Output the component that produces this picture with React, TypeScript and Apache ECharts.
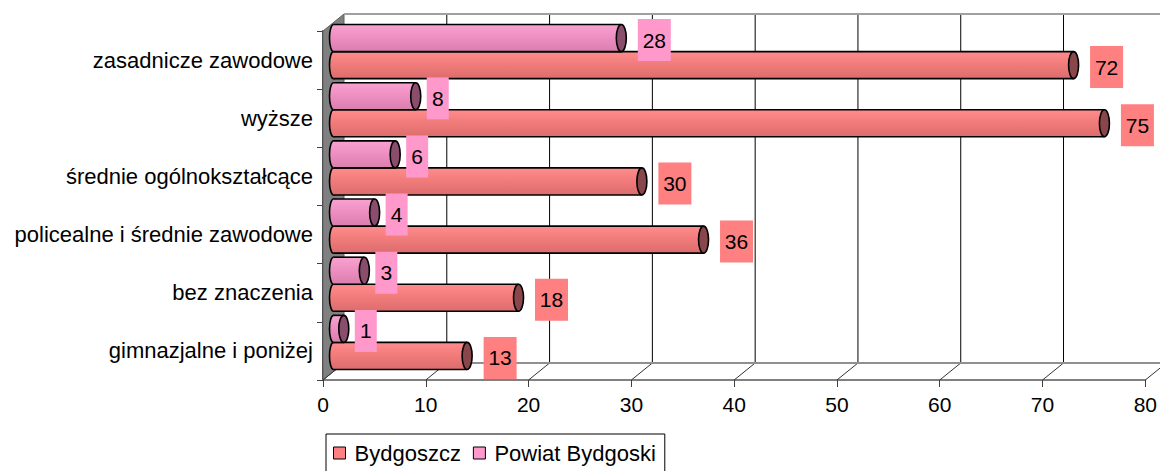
import React, { useEffect, useRef } from 'react';
import * as echarts from 'echarts';

const categories = [
  'gimnazjalne i poniżej',
  'bez znaczenia',
  'policealne i średnie zawodowe',
  'średnie ogólnokształcące',
  'wyższe',
  'zasadnicze zawodowe',
];
const bydgoszcz = [13, 18, 36, 30, 75, 72];
const powiat = [1, 3, 4, 6, 8, 28];
const xTicks = [0, 10, 20, 30, 40, 50, 60, 70, 80];
const seriesNames = ['Bydgoszcz', 'Powiat Bydgoski'];

const FONT = 'Liberation Sans';
const DX = 21;
const DY = -17;
const MX = 10.5;
const MY = -8.5;

const palettes = [
  { top: '#FF8C8C', mid: '#F27C7C', bot: '#DC6C6C', cap: '#8A474B', label: '#FF8080', legend: '#FF8080' },
  { top: '#F8A2D0', mid: '#EE90C2', bot: '#DA7EAE', cap: '#8A4D6C', label: '#FF99CC', legend: '#FF99CC' },
];

function makeBarRenderer(kind: number) {
  return (params: any, api: any) => {
    const val = api.value(0);
    const cat = api.value(1);
    const end = api.coord([val, cat]);
    const start = api.coord([0, cat]);
    const band = api.size([0, 1])[1];
    const h = band * 0.465;
    const cy = end[1] + MY + (kind === 0 ? h / 2 : -h / 2);
    const x0 = start[0] + MX;
    const x1 = end[0] + MX;
    const top = cy - h / 2;
    const bot = cy + h / 2;
    const p = palettes[kind];
    const grad = {
      type: 'linear', x: 0, y: 0, x2: 0, y2: 1,
      colorStops: [
        { offset: 0, color: p.top },
        { offset: 0.45, color: p.mid },
        { offset: 1, color: p.bot },
      ],
    };
    const txt = String(val);
    const len = txt.length;
    const w = 11 * len + 11;
    const tcx = x1 + 11 + 11 * len;
    const tcy = cy + 2;
    return {
      type: 'group',
      children: [
        { type: 'ellipse', shape: { cx: x0, cy, rx: 4, ry: h / 2 }, style: { fill: grad, stroke: '#000', lineWidth: 1.6 } },
        { type: 'rect', shape: { x: x0, y: top, width: Math.max(0, x1 - x0), height: h }, style: { fill: grad } },
        { type: 'line', shape: { x1: x0, y1: top, x2: x1, y2: top }, style: { stroke: '#000', lineWidth: 1.6 } },
        { type: 'line', shape: { x1: x0, y1: bot, x2: x1, y2: bot }, style: { stroke: '#000', lineWidth: 1.6 } },
        { type: 'ellipse', shape: { cx: x1, cy, rx: 5, ry: h / 2 }, style: { fill: p.cap, stroke: '#000', lineWidth: 1.6 } },
        { type: 'rect', shape: { x: tcx - w / 2, y: tcy - 21, width: w, height: 42 }, style: { fill: p.label } },
        {
          type: 'text',
          style: {
            text: txt, x: tcx, y: tcy, align: 'center', verticalAlign: 'middle',
            fill: '#000', fontSize: 21, fontFamily: FONT,
          },
        },
      ],
    };
  };
}

function renderWalls(params: any, api: any) {
  const cs = params.coordSys;
  const x = cs.x, y = cs.y, w = cs.width, h = cs.height;
  const children: any[] = [];
  children.push({
    type: 'polygon',
    shape: { points: [[x, y + h], [x, y], [x + DX, y + DY], [x + DX, y + h + DY]] },
    style: { fill: '#808080', stroke: '#606060', lineWidth: 1 },
  });
  xTicks.forEach((t) => {
    const cx = api.coord([t, 0])[0];
    if (t > 0) {
      children.push({
        type: 'line',
        shape: { x1: cx + DX, y1: y + DY, x2: cx + DX, y2: y + h + DY },
        style: { stroke: '#000', lineWidth: 1 },
      });
    }
    children.push({
      type: 'line',
      shape: { x1: cx, y1: y + h, x2: cx + DX, y2: y + h + DY },
      style: { stroke: '#333', lineWidth: 1 },
    });
  });
  children.push({
    type: 'line',
    shape: { x1: x + DX, y1: y + DY, x2: x + w + DX + 20, y2: y + DY },
    style: { stroke: '#A0A0A0', lineWidth: 2 },
  });
  children.push({
    type: 'line',
    shape: { x1: x + DX, y1: y + h + DY, x2: x + w + DX + 20, y2: y + h + DY },
    style: { stroke: '#909090', lineWidth: 2 },
  });
  return { type: 'group', children };
}

export default function App() {
  const ref = useRef<HTMLDivElement>(null);
  useEffect(() => {
    if (!ref.current) return;
    const chart = echarts.init(ref.current, undefined, { renderer: 'svg' });
    const option: any = {
      animation: false,
      backgroundColor: '#fff',
      grid: { left: 323, right: 10, top: 31, bottom: 91, containLabel: false },
      xAxis: {
        type: 'value', min: 0, max: 80, interval: 10,
        axisLine: { show: true, lineStyle: { color: '#808080', width: 2 } },
        axisTick: { show: true, length: 7, lineStyle: { color: '#404040' } },
        splitLine: { show: false },
        axisLabel: { margin: 14, color: '#000', fontSize: 21, fontFamily: FONT },
      },
      yAxis: {
        type: 'category', data: categories,
        axisLine: { show: true, lineStyle: { color: '#404040', width: 2 } },
        axisTick: { show: true, length: 6, lineStyle: { color: '#404040' } },
        axisLabel: { margin: 10, color: '#000', fontSize: 22, fontFamily: FONT },
        splitLine: { show: false },
      },
      legend: {
        left: 326, top: 434, orient: 'horizontal', icon: 'rect',
        data: seriesNames.map((n, i) => ({
          name: n,
          itemStyle: { color: palettes[i].legend, borderColor: '#000', borderWidth: 1 },
        })),
        itemWidth: 12, itemHeight: 12, itemGap: 12,
        backgroundColor: '#fff', borderColor: '#000', borderWidth: 1, borderRadius: 0,
        padding: [8, 9, 20, 7],
        selectedMode: false,
        textStyle: { fontSize: 22, color: '#000', fontFamily: FONT, padding: [0, 0, 0, 4] },
      },
      series: [
        {
          type: 'custom', name: 'walls', z: 1, silent: true,
          data: [[0, 0]], encode: { x: 0, y: 1 },
          renderItem: renderWalls,
        },
        {
          type: 'custom', name: seriesNames[0], z: 3,
          data: bydgoszcz.map((v, i) => [v, i]), encode: { x: 0, y: 1 },
          itemStyle: { color: palettes[0].legend },
          renderItem: makeBarRenderer(0),
        },
        {
          type: 'custom', name: seriesNames[1], z: 4,
          data: powiat.map((v, i) => [v, i]), encode: { x: 0, y: 1 },
          itemStyle: { color: palettes[1].legend },
          renderItem: makeBarRenderer(1),
        },
      ],
    };
    chart.setOption(option);
    return () => chart.dispose();
  }, []);
  return (
    <div
      ref={ref}
      style={{ position: 'absolute', left: 0, top: 0, width: 1160, height: 471, background: '#fff' }}
    />
  );
}
